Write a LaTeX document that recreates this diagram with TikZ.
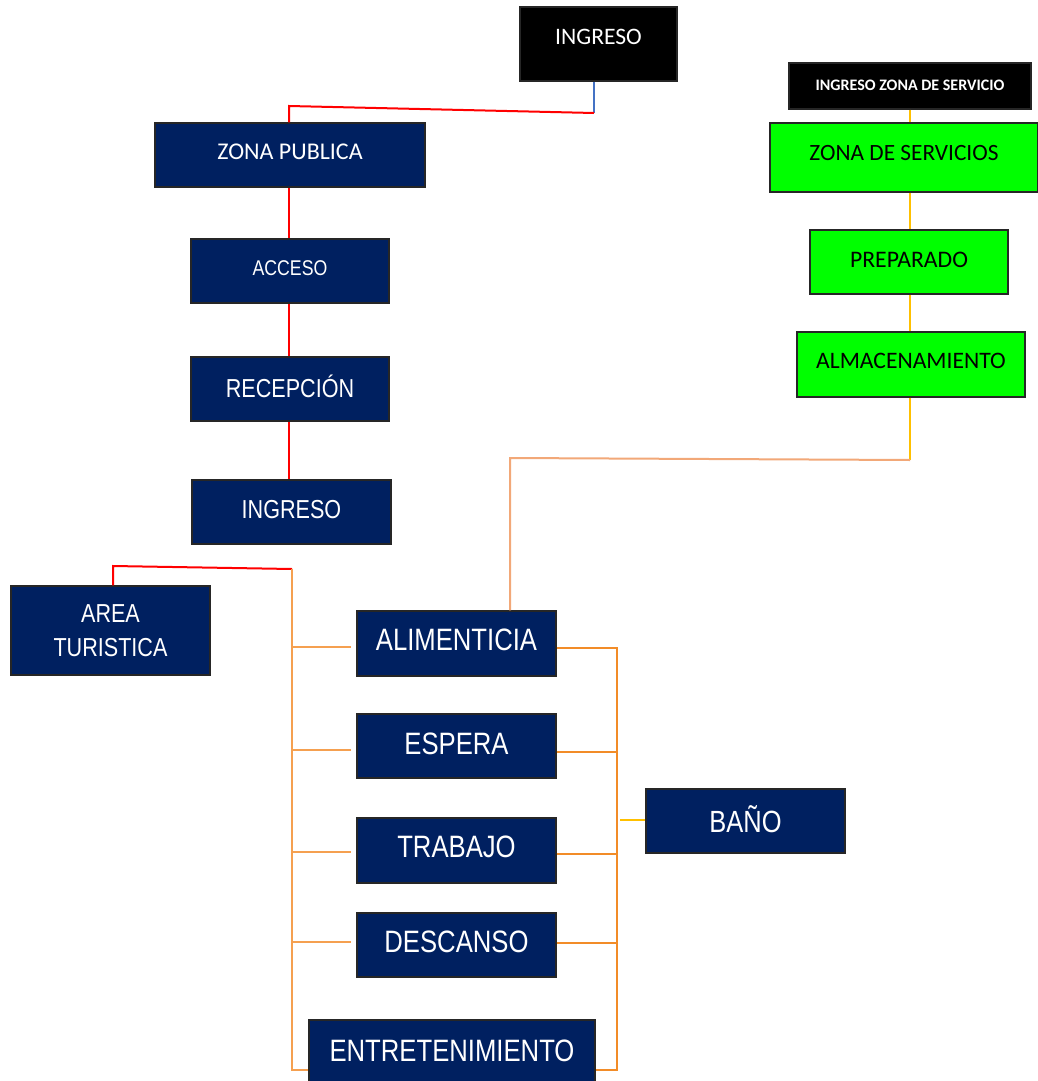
\documentclass[tikz,border=0pt]{standalone}
\usepackage{fontspec}
\usetikzlibrary{calc}
\newfontfamily\narfont{Liberation Sans}[FakeStretch=0.83]
\newfontfamily\calfont{Carlito}
\definecolor{navy}{HTML}{002060}
\definecolor{lgreen}{HTML}{00FF00}
\definecolor{lred}{HTML}{FF0000}
\definecolor{lblue}{HTML}{4472C4}
\definecolor{lorange}{HTML}{F5A050}
\definecolor{rorange}{HTML}{F28C28}
\definecolor{peach}{HTML}{F2A878}
\definecolor{lyellow}{HTML}{FFC000}
\begin{document}
\begin{tikzpicture}[x=0.75pt,y=-0.75pt,
  sz/.style 2 args={minimum width={#1*0.75pt},minimum height={#2*0.75pt}},
  box/.style={draw=black!85,line width=0.9pt,inner sep=0pt,anchor=center,align=center},
  navybox/.style={box,fill=navy,text=white},
  blackbox/.style={box,fill=black,text=white},
  greenbox/.style={box,fill=lgreen,text=black},
  ln/.style={line width=1.5pt},
  redln/.style={ln,draw=lred},
  blueln/.style={ln,draw=lblue},
  lorln/.style={ln,draw=lorange},
  rorln/.style={ln,draw=rorange},
  peachln/.style={ln,draw=peach},
  yelln/.style={ln,draw=lyellow}]
\useasboundingbox (0,0) rectangle (1038,1081);
\fill[white] (0,0) rectangle (1038,1081);

% nodes
\node[blackbox,sz={157}{74},font=\calfont\fontsize{17.7pt}{20pt}\selectfont] (ing1) at (598.5,44) {\raisebox{10.5pt}{INGRESO}};
\node[blackbox,sz={242}{46},font=\calfont\bfseries\fontsize{12pt}{14pt}\selectfont] (ingzs) at (910,86) {\raisebox{0.8pt}{INGRESO ZONA DE SERVICIO}};
\node[greenbox,sz={268}{69},font=\calfont\fontsize{17.5pt}{20pt}\selectfont] (zs) at (904,157.5) {\raisebox{6.3pt}{ZONA DE SERVICIOS}};
\node[greenbox,sz={198}{64},font=\calfont\fontsize{17.8pt}{20pt}\selectfont] (prep) at (909,262) {\raisebox{3pt}{PREPARADO}};
\node[greenbox,sz={228}{65},font=\calfont\fontsize{17.7pt}{20pt}\selectfont] (alm) at (911,364.5) {\raisebox{5.5pt}{ALMACENAMIENTO}};

\node[navybox,sz={270}{64},font=\calfont\fontsize{18pt}{20pt}\selectfont] (zp) at (290,155) {\raisebox{4.5pt}{ZONA PUBLICA}};
\node[navybox,sz={198}{64},font=\narfont\fontsize{16pt}{19pt}\selectfont] (acc) at (290,271) {\raisebox{4pt}{ACCESO}};
\node[navybox,sz={198}{64},font=\narfont\fontsize{19.5pt}{22pt}\selectfont] (rec) at (290,389) {\raisebox{4.5pt}{RECEPCIÓN}};
\node[navybox,sz={199}{64},font=\narfont\fontsize{19.5pt}{22pt}\selectfont] (ing2) at (291.5,512) {\raisebox{4.5pt}{INGRESO}};

\node[navybox,sz={199}{89},font=\narfont\fontsize{19.5pt}{25.5pt}\selectfont] (at) at (110.5,630.5) {AREA\\TURISTICA};

\node[navybox,sz={199}{65},font=\narfont\fontsize{23.2pt}{26pt}\selectfont] (ali) at (456.5,643.5) {\raisebox{5pt}{ALIMENTICIA}};
\node[navybox,sz={199}{64},font=\narfont\fontsize{23.2pt}{26pt}\selectfont] (esp) at (456.5,746) {\raisebox{3.7pt}{ESPERA}};
\node[navybox,sz={199}{65},font=\narfont\fontsize{23.2pt}{26pt}\selectfont] (tra) at (456.5,850.5) {\raisebox{5pt}{TRABAJO}};
\node[navybox,sz={199}{64},font=\narfont\fontsize{23.2pt}{26pt}\selectfont] (des) at (456.5,945) {\raisebox{4.5pt}{DESCANSO}};
\node[navybox,sz={286}{70},font=\narfont\fontsize{23.2pt}{26pt}\selectfont] (ent) at (452,1055) {\raisebox{6.5pt}{ENTRETENIMIENTO}};
\node[navybox,sz={199}{64},font=\narfont\fontsize{23pt}{26pt}\selectfont] (bano) at (745.5,821) {\raisebox{2.5pt}{BAÑO}};

% helper coordinates
\coordinate (c1) at (594,113);
\coordinate (c2) at (289,106);
\coordinate (c3) at (113,566);
\coordinate (c4) at (292,569);
\coordinate (c5) at (292,1070);
\coordinate (c6) at (617,647);
\coordinate (c7) at (617,1070);
\coordinate (c8) at (910,460);
\coordinate (c9) at (510,458);

% top public chain
\draw[blueln] (ing1.south -| c1) -- (c1);
\draw[redln] (c1) -- (c2) -- (c2 |- zp.north);
\draw[redln] (zp.south -| c2) -- (acc.north -| c2);
\draw[redln] (acc.south -| c2) -- (rec.north -| c2);
\draw[redln] (rec.south -| c2) -- (ing2.north -| c2);

% area turistica and left bus
\draw[redln] (at.north -| c3) -- (c3) -- (c4);
\draw[lorln] (c4) -- (c5) -- (ent.west |- c5);
\draw[lorln] ($(c4 |- ali.west)+(0,3)$) -- ($(ali.west)+(-5,3)$);
\draw[lorln] ($(c4 |- esp.west)+(0,4)$) -- ($(esp.west)+(-5,4)$);
\draw[lorln] ($(c4 |- tra.west)+(0,1)$) -- ($(tra.west)+(-5,1)$);
\draw[lorln] ($(c4 |- des.west)+(0,-3)$) -- ($(des.west)+(-5,-3)$);

% right bus
\draw[rorln] ($(ali.east)+(0,4)$) -- ($(ali.east -| c6)+(0,4)$) -- (c7) -- (ent.east |- c7);
\draw[rorln] ($(esp.east)+(0,6)$) -- ($(esp.east -| c6)+(0,6)$);
\draw[rorln] ($(tra.east)+(0,3)$) -- ($(tra.east -| c6)+(0,3)$);
\draw[rorln] ($(des.east)+(0,-2)$) -- ($(des.east -| c6)+(0,-2)$);
\draw[yelln] ($(c6 |- bano.west)+(3,-1)$) -- ($(bano.west)+(0,-1)$);

% service chain
\draw[yelln] (ingzs.south) -- (ingzs.south |- zs.north);
\draw[yelln] (zs.south -| c8) -- (prep.north -| c8);
\draw[yelln] (prep.south -| c8) -- (alm.north -| c8);
\draw[yelln] (alm.south -| c8) -- (c8);
\draw[peachln] (c8) -- (c9) -- (c9 |- ali.north);
\end{tikzpicture}
\end{document}
